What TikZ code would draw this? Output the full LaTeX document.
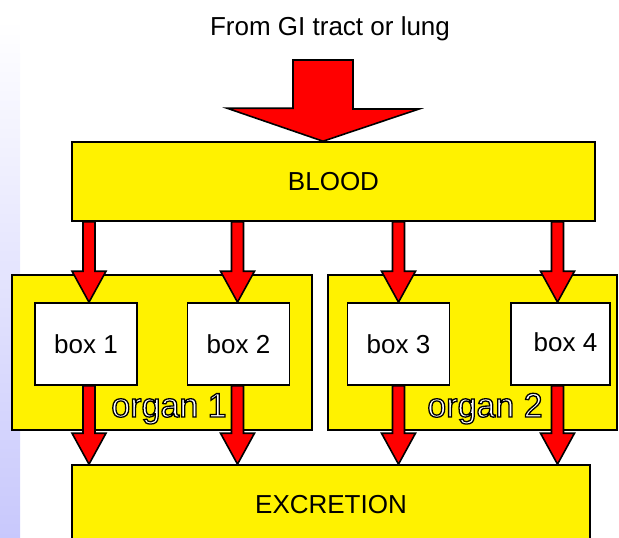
\documentclass[tikz,border=0pt]{standalone}
\usepackage{fontspec}
\setmainfont{Liberation Sans}
\usetikzlibrary{calc}

\definecolor{lavender}{RGB}{200,200,252}

% white letters with a thin black outline (text render mode 2)
\newcommand{\outlined}[1]{{\color{white}%
  \special{pdf:literal direct 2 Tr 1.3 w 0 0 0 RG}#1\special{pdf:literal direct 0 Tr}}}

% red block arrow pointing down from #1 to #2
\newcommand{\fatarrow}[2]{%
  \draw[arrowfill] let \p1=(#1), \p2=(#2) in
    (\x1-6pt,\y1) -- (\x1-6pt,\y2+31pt) -- (\x1-17pt,\y2+31pt) -- (\x1,\y2)
    -- (\x1+17pt,\y2+31pt) -- (\x1+6pt,\y2+31pt) -- (\x1+6pt,\y1) -- cycle;}

\begin{document}
\begin{tikzpicture}[x=1pt,y=-1pt,line width=1.6pt,
  font=\fontsize{26}{30}\selectfont,
  yellowbox/.style={draw,fill=yellow,inner sep=0pt},
  whitebox/.style={draw,fill=white,inner sep=0pt,minimum width=102,minimum height=82},
  organlabel/.style={anchor=base,font=\fontsize{34}{38}\selectfont},
  arrowfill/.style={draw=black,fill=red,line join=miter}]

\useasboundingbox (0,0) rectangle (619,538);
\clip (0,0) rectangle (619,538);

\shade[top color=white,bottom color=lavender] (0,20) rectangle (20,538);

\node[anchor=base] (title) at (330,35) {From GI tract or lung};
\coordinate (src) at (323,60);

\node[yellowbox,minimum width=523,minimum height=79] (blood) at (333.5,181.5) {BLOOD};
\node[yellowbox,minimum width=300,minimum height=155] (organ1) at (162,352.5) {};
\node[yellowbox,minimum width=289,minimum height=155] (organ2) at (472.5,352.5) {};
\node[yellowbox,minimum width=518,minimum height=80] (excretion) at (331,505) {EXCRETION};

\node[whitebox] (box1) at (86,344) {box 1};
\node[whitebox] (box2) at (238.5,344) {box 2};
\node[whitebox] (box3) at (398.5,344) {box 3};
\node[whitebox,minimum width=99] (box4) at (560.5,344) {\raisebox{4pt}{\hspace*{10pt}box 4}};

\node[organlabel] (label1) at (169,417) {\outlined{organ 1}};
\node[organlabel] (label2) at (485,417) {\outlined{organ 2}};

% input arrow into the blood
\draw[arrowfill] ([xshift=-30pt]src) -- ([xshift=30pt]src) -- ++(0,49) -- ++(66,0)
  -- (blood.north -| src) -- ++(-96,-33) -- ++(66,0) -- cycle;

\foreach \b/\dx in {box1/3,box2/-1,box3/0,box4/-3} {
  \fatarrow{[xshift=\dx pt]blood.south -| \b.north}{[xshift=\dx pt]\b.north}
  \fatarrow{[xshift=\dx pt]\b.south}{[xshift=\dx pt]\b.south |- excretion.north}
}

\end{tikzpicture}
\end{document}
